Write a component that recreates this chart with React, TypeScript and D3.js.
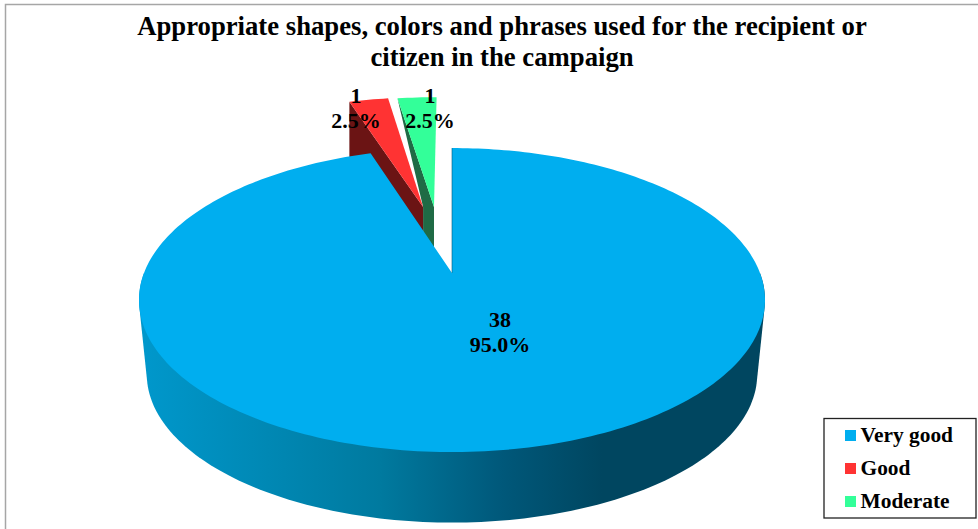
import React from "react";
import * as d3 from "d3";

const categories = ["Very good", "Good", "Moderate"];
const counts = [38, 1, 1];
const percents = ["95.0%", "2.5%", "2.5%"];
const topColors = ["#00AEEF", "#FF3333", "#33FF99"];
const wallColors = ["#00AEEF", "#6B1414", "#1F6B45"];
const titleLines = ["Appropriate shapes, colors and phrases used for the recipient or", "citizen in the campaign"];
const sideStops = [
  ["0", "#0098CC"], ["0.385", "#007A9F"], ["0.58", "#00587A"], ["0.74", "#004660"], ["1", "#004660"],
];

const W = 978, H = 529;
const cx = 452, topY = 273, botY = 348;
const P = 0.178, A = 147.2, B = 308, SB = 0.975;
const FONT = "'Liberation Serif','Times New Roman',serif";

// perspective projection of the pie's plane
const proj = (u: number, v: number, bottom = false) => {
  const w = 1 + P * v;
  const s = bottom ? SB : 1;
  return [cx + (s * B * u) / w, (bottom ? botY : topY) - (s * A * v) / w] as [number, number];
};
const line = d3.line();
const slices = d3.pie<number>().sort(null)(counts);
// slices run clockwise from 12 o'clock; explosion offset and radius in plane units for each
const explode: [number, number][] = [[0, 0], [-0.102, 0.487], [-0.0635, 0.487]];
const radii = [1, 1.03, 1.03];

const rim = (a0: number, a1: number, off: [number, number], r = 1, bottom = false) => {
  const n = Math.max(2, Math.ceil((a1 - a0) / 0.02));
  return d3.range(n + 1).map((i) => {
    const a = a0 + ((a1 - a0) * i) / n;
    return proj(off[0] + r * Math.sin(a), off[1] + r * Math.cos(a), bottom);
  });
};

export default function App() {
  const main = slices[0];
  const mainTop = [proj(0, 0), ...rim(main.startAngle, main.endAngle, [0, 0])];
  // outline of the drum's front: hull of the near halves of the top and bottom rims
  const wall = d3.polygonHull([
    ...rim(0.5 * Math.PI, 1.5 * Math.PI, [0, 0]),
    ...rim(0.5 * Math.PI, 1.5 * Math.PI, [0, 0], 1, true),
  ])!;
  const [rc0, rc1] = [slices[1], slices[2]];
  const rOff = explode[1], gOff = explode[2];
  const rApex = proj(rOff[0], rOff[1]);
  const rApexB: [number, number] = [rApex[0], rApex[1] + 60];
  const rCorner = rim(rc0.startAngle, rc0.startAngle, rOff, radii[1])[0];
  const rCornerB: [number, number] = [rCorner[0], rCorner[1] + 60];
  const gApex = proj(gOff[0], gOff[1]);
  const gApexB: [number, number] = [gApex[0], gApex[1] + 52];
  const gCorner = rim(rc1.startAngle, rc1.startAngle, gOff, radii[2])[0];

  const legendY = [435, 468, 501];
  return (
    <svg width={W} height={H} style={{ position: "absolute", left: 0, top: 0 }}>
      <defs>
        <linearGradient id="side" gradientUnits="userSpaceOnUse" x1={139} x2={765} y1={0} y2={0}>
          {sideStops.map(([o, c]) => <stop key={o} offset={o} stopColor={c} />)}
        </linearGradient>
      </defs>
      <rect width={W} height={H} fill="#fff" />
      <path d={`M5.5,${H}V4.5H${W}`} fill="none" stroke="#A6A6A6" strokeWidth={1.5} />
      {titleLines.map((t, i) => (
        <text key={i} x={502} y={35 + i * 31} textAnchor="middle" fontFamily={FONT} fontWeight="bold" fontSize={26.7} fill="#000">{t}</text>
      ))}
      {/* green slice */}
      <path d={line([gCorner, gApex, gApexB, [rApex[0], gApexB[1]], rApex])! + "Z"} fill={wallColors[2]} />
      <path d={line([gApex, ...rim(rc1.startAngle, rc1.endAngle, gOff, radii[2])])! + "Z"} fill={topColors[2]} />
      {/* red slice */}
      <path d={line([rCorner, rCornerB, rApexB, rApex])! + "Z"} fill={wallColors[1]} />
      <path d={line([rApex, ...rim(rc0.startAngle, rc0.endAngle, rOff, radii[1])])! + "Z"} fill={topColors[1]} />
      {/* main slice */}
      <path d={line(wall)! + "Z"} fill="url(#side)" />
      <path d={line(mainTop)! + "Z"} fill={topColors[0]} />
      <path d={line([proj(0, 0), proj(0, 1)])!} fill="none" stroke="#00587A" strokeWidth={0.6} />
      {/* labels */}
      {[[500, 327, 352], [356, 103, 128], [430, 103, 128]].map(([x, y1, y2], i) => (
        <g key={i} fontFamily={FONT} fontWeight="bold" fontSize={22} textAnchor="middle" fill="#000">
          <text x={x} y={y1}>{counts[i]}</text>
          <text x={x} y={y2}>{percents[i]}</text>
        </g>
      ))}
      {/* legend */}
      <rect x={824} y={418.5} width={152} height={99.5} fill="#fff" stroke="#222" strokeWidth={1.3} />
      {categories.map((c, i) => (
        <g key={c}>
          <rect x={845} y={legendY[i] - 5} width={11} height={11} fill={topColors[i]} />
          <text x={860.5} y={legendY[i] + 7} fontFamily={FONT} fontWeight="bold" fontSize={21.4} fill="#000">{c}</text>
        </g>
      ))}
    </svg>
  );
}
